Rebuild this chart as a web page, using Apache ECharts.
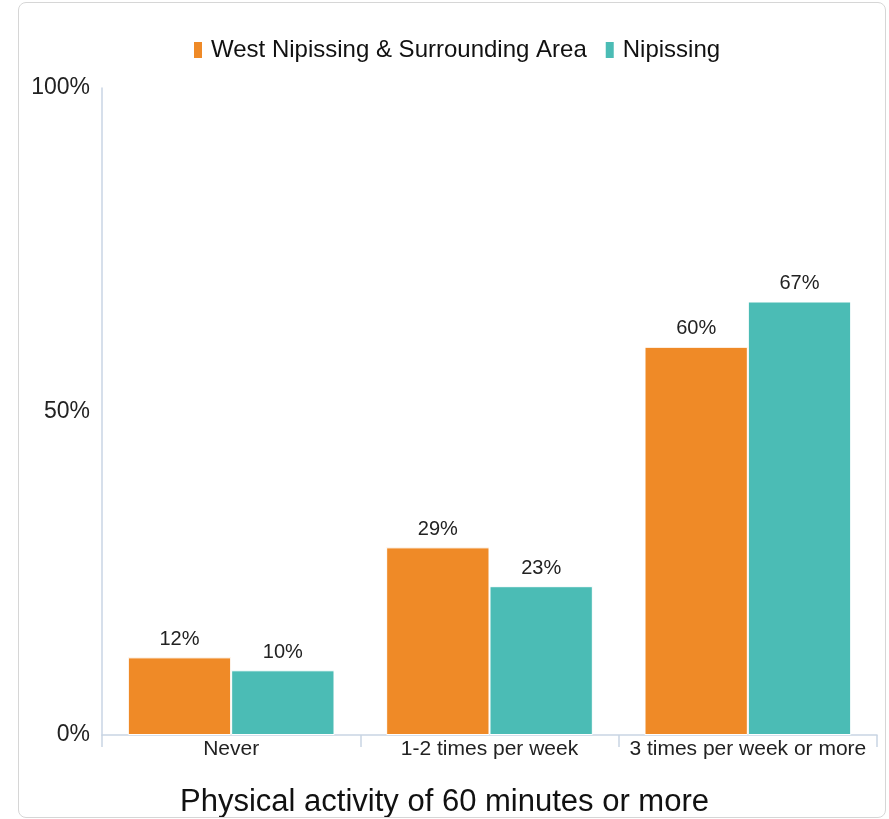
<!DOCTYPE html>
<html>
<head>
<meta charset="utf-8">
<script src="https://cdn.jsdelivr.net/npm/echarts@6/dist/echarts.min.js"></script>
<style>
  html, body { margin: 0; padding: 0; background: #fff; }
  #main { position: absolute; left: 0; top: 0; width: 889px; height: 819px; }
  .frame {
    position: absolute; left: 18px; top: 2px; width: 866px; height: 814px;
    border: 1px solid #d6d6d6; border-radius: 8px; pointer-events: none;
  }
</style>
</head>
<body>
<div id="main"></div>
<div class="frame"></div>
<script>
// data
const categories = ["Never", "1-2 times per week", "3 times per week or more"];
const westNipissing = [12, 29, 60];
const nipissing = [10, 23, 67];
const seriesNames = ["West Nipissing & Surrounding Area", "Nipissing"];
const chartTitle = "Physical activity of 60 minutes or more";

const font = "'Liberation Sans', Arial, sans-serif";
const axisColor = "#c9d5e4";

const chart = echarts.init(document.getElementById("main"));

const barLabel = {
  show: true,
  position: "top",
  distance: 8,
  color: "#222",
  fontSize: 20,
  fontFamily: font,
  formatter: "{c}%"
};

chart.setOption({
  animation: false,
  color: ["#ef8a27", "#4bbcb5"],
  title: {
    text: chartTitle,
    left: "center",
    top: 782,
    textStyle: { fontSize: 31, fontWeight: "normal", color: "#111", fontFamily: font }
  },
  legend: {
    top: 33,
    left: 187,
    icon: "rect",
    itemWidth: 10,
    itemHeight: 18,
    itemGap: 17,
    textStyle: { fontSize: 24, color: "#111", fontFamily: font, padding: [0, 0, 0, 3] }
  },
  grid: { left: 102, right: 12, top: 88, bottom: 84 },
  xAxis: {
    type: "category",
    data: categories,
    axisLine: { lineStyle: { color: axisColor, width: 1.5 } },
    axisTick: { show: true, interval: 0, length: 12, lineStyle: { color: axisColor, width: 1.5 } },
    axisLabel: { interval: 0, color: "#222", fontSize: 21, fontFamily: font, margin: 4 }
  },
  yAxis: {
    type: "value",
    min: 0,
    max: 100,
    interval: 50,
    axisLine: { show: true, lineStyle: { color: axisColor, width: 1.5 } },
    axisTick: { show: false },
    splitLine: { show: false },
    axisLabel: { color: "#222", fontSize: 23, fontFamily: font, margin: 12, formatter: "{value}%" }
  },
  series: [
    {
      name: seriesNames[0],
      type: "bar",
      data: westNipissing,
      barGap: "0%",
      barCategoryGap: "20%",
      itemStyle: { borderColor: "#fff", borderWidth: 1 },
      label: barLabel
    },
    {
      name: seriesNames[1],
      type: "bar",
      data: nipissing,
      itemStyle: { borderColor: "#fff", borderWidth: 1 },
      label: barLabel
    }
  ]
});
</script>
</body>
</html>
